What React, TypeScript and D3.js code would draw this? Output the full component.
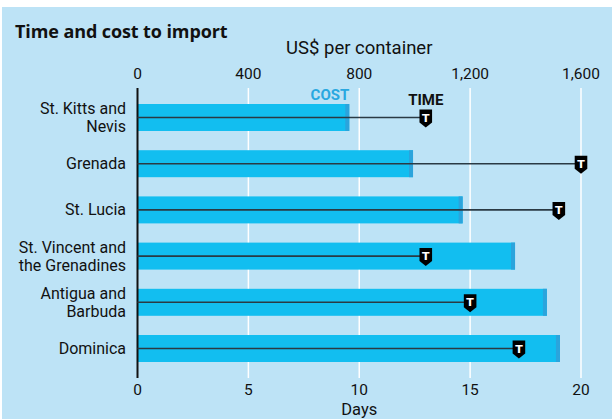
import React from 'react';
import * as d3 from 'd3';

const countries = [
    ['St. Kitts and', 'Nevis'],
    ['Grenada'],
    ['St. Lucia'],
    ['St. Vincent and', 'the Grenadines'],
    ['Antigua and', 'Barbuda'],
    ['Dominica'],
];
const costUsd = [764, 994, 1173, 1362, 1477, 1524];
const timeDays = [13, 20, 19, 13, 15, 17.2];
const costTicks = [0, 400, 800, 1200, 1600];
const dayTicks = [0, 5, 10, 15, 20];

const W = 612, H = 419;
const FONT = '"Liberation Sans Narrow", "Roboto", sans-serif';

export default function App() {
    const x0 = 137.5, x1 = 581;
    const xDays = d3.scaleLinear().domain([0, 20]).range([x0, x1]);
    const xCost = d3.scaleLinear().domain([0, 1600]).range([x0, x1]);
    const y = d3.scaleBand<number>()
        .domain(d3.range(countries.length))
        .range([94.4, 371.6])
        .paddingInner(0.416)
        .paddingOuter(0.208);
    const bw = y.bandwidth();

    // shield-shaped "T" marker
    const marker = (cx: number, cy: number) => {
        const w = 6.3;
        const path = d3.path();
        path.moveTo(cx - w, cy - 8);
        path.lineTo(cx + w, cy - 8);
        path.lineTo(cx + w, cy + 5);
        path.lineTo(cx, cy + 10);
        path.lineTo(cx - w, cy + 5);
        path.closePath();
        return path.toString();
    };

    return (
        <svg width={W} height={H} style={{position: 'absolute', left: 0, top: 0}} fontFamily={FONT}>
            <rect x={2} y={7} width={W - 2} height={H - 7} fill="#bde3f6"/>
            <text x={15} y={38} fontSize={18} fontWeight="bold" fontFamily='"Open Sans", sans-serif' letterSpacing={-0.1} fill="#111">
                Time and cost to import
            </text>
            <text x={xCost(800)} y={54} fontSize={18.5} textAnchor="middle" fill="#111">US$ per container</text>
            {costTicks.map(t => (
                <text key={'c' + t} x={xCost(t)} y={79} fontSize={15.5} textAnchor="middle" fill="#111">
                    {d3.format(',')(t)}
                </text>
            ))}
            {dayTicks.filter(t => t > 0).map(t => (
                <line key={'g' + t} x1={xDays(t)} x2={xDays(t)} y1={88} y2={378} stroke="#fff" strokeWidth={1.5}/>
            ))}
            {costUsd.map((v, i) => {
                const top = y(i)!;
                return (
                    <g key={'b' + i}>
                        <rect x={x0} y={top} width={xCost(v) - x0} height={bw} fill="#12bef0"/>
                        <rect x={xCost(v) - 4} y={top} width={4} height={bw} fill="#2ba4dc"/>
                    </g>
                );
            })}
            <line x1={x0} x2={x0} y1={88} y2={378} stroke="#111" strokeWidth={2}/>
            {timeDays.map((v, i) => {
                const cy = y(i)! + bw / 2;
                const cx = xDays(v);
                return (
                    <g key={'t' + i}>
                        <line x1={x0} x2={cx} y1={cy} y2={cy} stroke="#2a3a44" strokeWidth={1.6}/>
                        <path d={marker(cx, cy)} fill="#000"/>
                        <text x={cx} y={cy + 4} fontSize={11} fontWeight="bold" textAnchor="middle" fill="#fff"
                              fontFamily='"DejaVu Sans", sans-serif'>T</text>
                    </g>
                );
            })}
            <text x={xCost(costUsd[0])} y={100} fontSize={15} fontWeight="bold" textAnchor="end" fill="#29a8e0">COST</text>
            <text x={xDays(timeDays[0])} y={105} fontSize={15} fontWeight="bold" textAnchor="middle" fill="#111">TIME</text>
            {countries.map((lines, i) => {
                const cy = y(i)! + bw / 2;
                const startY = cy + 5.5 - (lines.length - 1) * 9;
                return (
                    <text key={'l' + i} x={126} textAnchor="end" fontSize={16} fill="#111">
                        {lines.map((s, j) => (
                            <tspan key={j} x={126} y={startY + j * 18}>{s}</tspan>
                        ))}
                    </text>
                );
            })}
            {dayTicks.map(t => (
                <text key={'d' + t} x={xDays(t)} y={395} fontSize={15.5} textAnchor="middle" fill="#111">{t}</text>
            ))}
            <text x={xDays(10)} y={415} fontSize={16.5} textAnchor="middle" fill="#111">Days</text>
        </svg>
    );
}
